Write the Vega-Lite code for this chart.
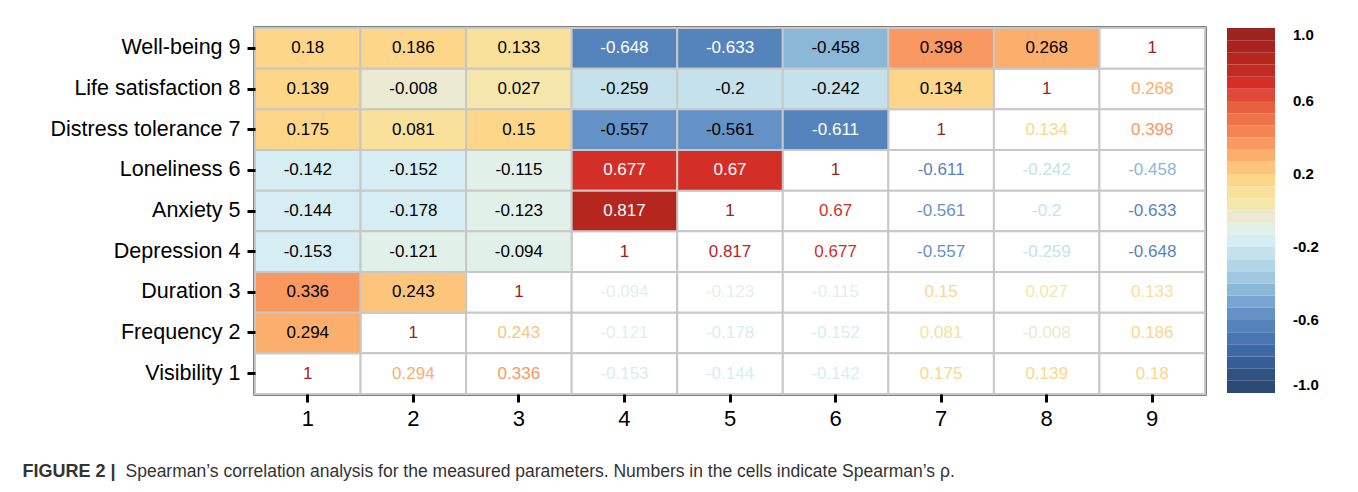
{
  "$schema": "https://vega.github.io/schema/vega-lite/v6.json",
  "autosize": {"type": "none"},
  "padding": {"left": 255, "top": 28, "right": 153, "bottom": 98},
  "width": 950,
  "height": 366,
  "background": "white",
  "config": {
    "font": "Liberation Sans",
    "view": {"stroke": "black", "strokeWidth": 3}
  },
  "data": {
    "values": [
      {"r": 9, "rl": "Well-being 9", "c": 1, "v": 0.18},
      {"r": 9, "rl": "Well-being 9", "c": 2, "v": 0.186},
      {"r": 9, "rl": "Well-being 9", "c": 3, "v": 0.133},
      {"r": 9, "rl": "Well-being 9", "c": 4, "v": -0.648},
      {"r": 9, "rl": "Well-being 9", "c": 5, "v": -0.633},
      {"r": 9, "rl": "Well-being 9", "c": 6, "v": -0.458},
      {"r": 9, "rl": "Well-being 9", "c": 7, "v": 0.398},
      {"r": 9, "rl": "Well-being 9", "c": 8, "v": 0.268},
      {"r": 9, "rl": "Well-being 9", "c": 9, "v": 1},
      {"r": 8, "rl": "Life satisfaction 8", "c": 1, "v": 0.139},
      {"r": 8, "rl": "Life satisfaction 8", "c": 2, "v": -0.008},
      {"r": 8, "rl": "Life satisfaction 8", "c": 3, "v": 0.027},
      {"r": 8, "rl": "Life satisfaction 8", "c": 4, "v": -0.259},
      {"r": 8, "rl": "Life satisfaction 8", "c": 5, "v": -0.2},
      {"r": 8, "rl": "Life satisfaction 8", "c": 6, "v": -0.242},
      {"r": 8, "rl": "Life satisfaction 8", "c": 7, "v": 0.134},
      {"r": 8, "rl": "Life satisfaction 8", "c": 8, "v": 1},
      {"r": 8, "rl": "Life satisfaction 8", "c": 9, "v": 0.268},
      {"r": 7, "rl": "Distress tolerance 7", "c": 1, "v": 0.175},
      {"r": 7, "rl": "Distress tolerance 7", "c": 2, "v": 0.081},
      {"r": 7, "rl": "Distress tolerance 7", "c": 3, "v": 0.15},
      {"r": 7, "rl": "Distress tolerance 7", "c": 4, "v": -0.557},
      {"r": 7, "rl": "Distress tolerance 7", "c": 5, "v": -0.561},
      {"r": 7, "rl": "Distress tolerance 7", "c": 6, "v": -0.611},
      {"r": 7, "rl": "Distress tolerance 7", "c": 7, "v": 1},
      {"r": 7, "rl": "Distress tolerance 7", "c": 8, "v": 0.134},
      {"r": 7, "rl": "Distress tolerance 7", "c": 9, "v": 0.398},
      {"r": 6, "rl": "Loneliness 6", "c": 1, "v": -0.142},
      {"r": 6, "rl": "Loneliness 6", "c": 2, "v": -0.152},
      {"r": 6, "rl": "Loneliness 6", "c": 3, "v": -0.115},
      {"r": 6, "rl": "Loneliness 6", "c": 4, "v": 0.677},
      {"r": 6, "rl": "Loneliness 6", "c": 5, "v": 0.67},
      {"r": 6, "rl": "Loneliness 6", "c": 6, "v": 1},
      {"r": 6, "rl": "Loneliness 6", "c": 7, "v": -0.611},
      {"r": 6, "rl": "Loneliness 6", "c": 8, "v": -0.242},
      {"r": 6, "rl": "Loneliness 6", "c": 9, "v": -0.458},
      {"r": 5, "rl": "Anxiety 5", "c": 1, "v": -0.144},
      {"r": 5, "rl": "Anxiety 5", "c": 2, "v": -0.178},
      {"r": 5, "rl": "Anxiety 5", "c": 3, "v": -0.123},
      {"r": 5, "rl": "Anxiety 5", "c": 4, "v": 0.817},
      {"r": 5, "rl": "Anxiety 5", "c": 5, "v": 1},
      {"r": 5, "rl": "Anxiety 5", "c": 6, "v": 0.67},
      {"r": 5, "rl": "Anxiety 5", "c": 7, "v": -0.561},
      {"r": 5, "rl": "Anxiety 5", "c": 8, "v": -0.2},
      {"r": 5, "rl": "Anxiety 5", "c": 9, "v": -0.633},
      {"r": 4, "rl": "Depression 4", "c": 1, "v": -0.153},
      {"r": 4, "rl": "Depression 4", "c": 2, "v": -0.121},
      {"r": 4, "rl": "Depression 4", "c": 3, "v": -0.094},
      {"r": 4, "rl": "Depression 4", "c": 4, "v": 1},
      {"r": 4, "rl": "Depression 4", "c": 5, "v": 0.817},
      {"r": 4, "rl": "Depression 4", "c": 6, "v": 0.677},
      {"r": 4, "rl": "Depression 4", "c": 7, "v": -0.557},
      {"r": 4, "rl": "Depression 4", "c": 8, "v": -0.259},
      {"r": 4, "rl": "Depression 4", "c": 9, "v": -0.648},
      {"r": 3, "rl": "Duration 3", "c": 1, "v": 0.336},
      {"r": 3, "rl": "Duration 3", "c": 2, "v": 0.243},
      {"r": 3, "rl": "Duration 3", "c": 3, "v": 1},
      {"r": 3, "rl": "Duration 3", "c": 4, "v": -0.094},
      {"r": 3, "rl": "Duration 3", "c": 5, "v": -0.123},
      {"r": 3, "rl": "Duration 3", "c": 6, "v": -0.115},
      {"r": 3, "rl": "Duration 3", "c": 7, "v": 0.15},
      {"r": 3, "rl": "Duration 3", "c": 8, "v": 0.027},
      {"r": 3, "rl": "Duration 3", "c": 9, "v": 0.133},
      {"r": 2, "rl": "Frequency 2", "c": 1, "v": 0.294},
      {"r": 2, "rl": "Frequency 2", "c": 2, "v": 1},
      {"r": 2, "rl": "Frequency 2", "c": 3, "v": 0.243},
      {"r": 2, "rl": "Frequency 2", "c": 4, "v": -0.121},
      {"r": 2, "rl": "Frequency 2", "c": 5, "v": -0.178},
      {"r": 2, "rl": "Frequency 2", "c": 6, "v": -0.152},
      {"r": 2, "rl": "Frequency 2", "c": 7, "v": 0.081},
      {"r": 2, "rl": "Frequency 2", "c": 8, "v": -0.008},
      {"r": 2, "rl": "Frequency 2", "c": 9, "v": 0.186},
      {"r": 1, "rl": "Visibility 1", "c": 1, "v": 1},
      {"r": 1, "rl": "Visibility 1", "c": 2, "v": 0.294},
      {"r": 1, "rl": "Visibility 1", "c": 3, "v": 0.336},
      {"r": 1, "rl": "Visibility 1", "c": 4, "v": -0.153},
      {"r": 1, "rl": "Visibility 1", "c": 5, "v": -0.144},
      {"r": 1, "rl": "Visibility 1", "c": 6, "v": -0.142},
      {"r": 1, "rl": "Visibility 1", "c": 7, "v": 0.175},
      {"r": 1, "rl": "Visibility 1", "c": 8, "v": 0.139},
      {"r": 1, "rl": "Visibility 1", "c": 9, "v": 0.18}
    ]
  },
  "encoding": {
    "x": {
      "field": "c",
      "type": "ordinal",
      "scale": {"paddingInner": 0, "paddingOuter": 0},
      "axis": {
        "labelAngle": 0,
        "labelFontSize": 22,
        "labelColor": "black",
        "labelPadding": 6,
        "tickSize": 8,
        "tickWidth": 3,
        "tickColor": "black",
        "domain": false,
        "title": "Spearman’s correlation analysis for the measured parameters. Numbers in the cells indicate Spearman’s ρ.",
        "titleFontSize": 17.5,
        "titleFontWeight": "normal",
        "titleColor": "#333333",
        "titleAlign": "left",
        "titleAnchor": "start",
        "titleBaseline": "alphabetic",
        "titleX": -130,
        "titleY": 82
      }
    },
    "y": {
      "field": "rl",
      "type": "nominal",
      "scale": {
        "domain": ["Well-being 9", "Life satisfaction 8", "Distress tolerance 7", "Loneliness 6", "Anxiety 5", "Depression 4", "Duration 3", "Frequency 2", "Visibility 1"],
        "paddingInner": 0,
        "paddingOuter": 0
      },
      "axis": {
        "labelFontSize": 21.5,
        "labelLimit": 400,
        "labelColor": "black",
        "labelPadding": 7,
        "tickSize": 8,
        "tickWidth": 3,
        "tickColor": "black",
        "domain": false,
        "title": "FIGURE 2 |",
        "titleAngle": 0,
        "titleFontSize": 18,
        "titleFontWeight": "bold",
        "titleColor": "#333333",
        "titleAlign": "left",
        "titleBaseline": "alphabetic",
        "titleX": -233,
        "titleY": 448
      }
    }
  },
  "layer": [
    {
      "mark": {"type": "rect", "fill": "white", "stroke": "#c8c8c8", "strokeWidth": 2}
    },
    {
      "transform": [{"filter": "datum.c < datum.r"}],
      "mark": {"type": "rect", "stroke": "#c8c8c8", "strokeWidth": 2},
      "encoding": {
        "color": {
          "field": "v",
          "type": "quantitative",
          "scale": {
            "type": "threshold",
            "domain": [-0.9333, -0.8667, -0.8, -0.7333, -0.6667, -0.6, -0.5333, -0.4667, -0.4, -0.3333, -0.2667, -0.1999, -0.1333, -0.0667, 0, 0.0667, 0.1333, 0.2, 0.2667, 0.3333, 0.4, 0.4667, 0.5333, 0.6, 0.6667, 0.7333, 0.8, 0.8667, 0.9333],
            "range": ["#2b4a73","#2f5283","#365d95","#3e69a6","#4876b4","#5584bd","#6592c6","#78a4cf","#8cb8d8","#a0c8e0","#b2d5e7","#c4e1ec","#d6edf3","#e2f0ea","#ebe9d2","#f5e6ab","#f9e09b","#fdd68a","#fdc47b","#fcae6d","#f99860","#f58455","#ef7249","#e8603f","#e04a36","#d32f27","#c42a23","#b5261f","#a8231f","#9b2420"]
          },
          "legend": {
            "type": "gradient",
            "title": null,
            "values": [-1, -0.9333, -0.8667, -0.8, -0.7333, -0.6667, -0.6, -0.5333, -0.4667, -0.4, -0.3333, -0.2667, -0.1999, -0.1333, -0.0667, 0, 0.0667, 0.1333, 0.2, 0.2667, 0.3333, 0.4, 0.4667, 0.5333, 0.6, 0.6667, 0.7333, 0.8, 0.8667, 0.9333, 1],
            "labelExpr": "(abs(datum.value) > 0.1 && abs(datum.value * 10 - round(datum.value * 10)) < 0.01 && abs(round(datum.value * 10)) % 4 == 2) || abs(datum.value) == 1 ? replace(format(datum.value, '.1f'), '−', '-') : ''",
            "labelOverlap": false,
            "gradientLength": 365,
            "gradientThickness": 48,
            "gradientStrokeWidth": 0,
            "labelFontSize": 15,
            "labelFontWeight": "bold",
            "labelColor": "black",
            "labelOffset": 18,
            "offset": 22,
            "padding": 0
          }
        }
      }
    },
    {
      "transform": [{"filter": "datum.c < datum.r"}],
      "mark": {"type": "text", "fontSize": 17},
      "encoding": {
        "text": {"field": "v", "type": "nominal"},
        "color": {"condition": {"test": "abs(datum.v) > 0.6", "value": "white"}, "value": "black"}
      }
    },
    {
      "transform": [{"filter": "datum.c >= datum.r"}],
      "mark": {"type": "text", "fontSize": 17},
      "encoding": {
        "text": {"field": "v", "type": "nominal"},
        "color": {
          "field": "v",
          "type": "quantitative",
          "scale": {
            "type": "threshold",
            "domain": [-0.9333, -0.8667, -0.8, -0.7333, -0.6667, -0.6, -0.5333, -0.4667, -0.4, -0.3333, -0.2667, -0.1999, -0.1333, -0.0667, 0, 0.0667, 0.1333, 0.2, 0.2667, 0.3333, 0.4, 0.4667, 0.5333, 0.6, 0.6667, 0.7333, 0.8, 0.8667, 0.9333],
            "range": ["#2b4a73","#2f5283","#365d95","#3e69a6","#4876b4","#5584bd","#6592c6","#78a4cf","#8cb8d8","#a0c8e0","#b2d5e7","#c4e1ec","#d6edf3","#e2f0ea","#ebe9d2","#f5e6ab","#f9e09b","#fdd68a","#fdc47b","#fcae6d","#f99860","#f58455","#ef7249","#e8603f","#e04a36","#d32f27","#c42a23","#b5261f","#a8231f","#9b2420"]
          },
          "legend": null
        }
      }
    }
  ]
}
